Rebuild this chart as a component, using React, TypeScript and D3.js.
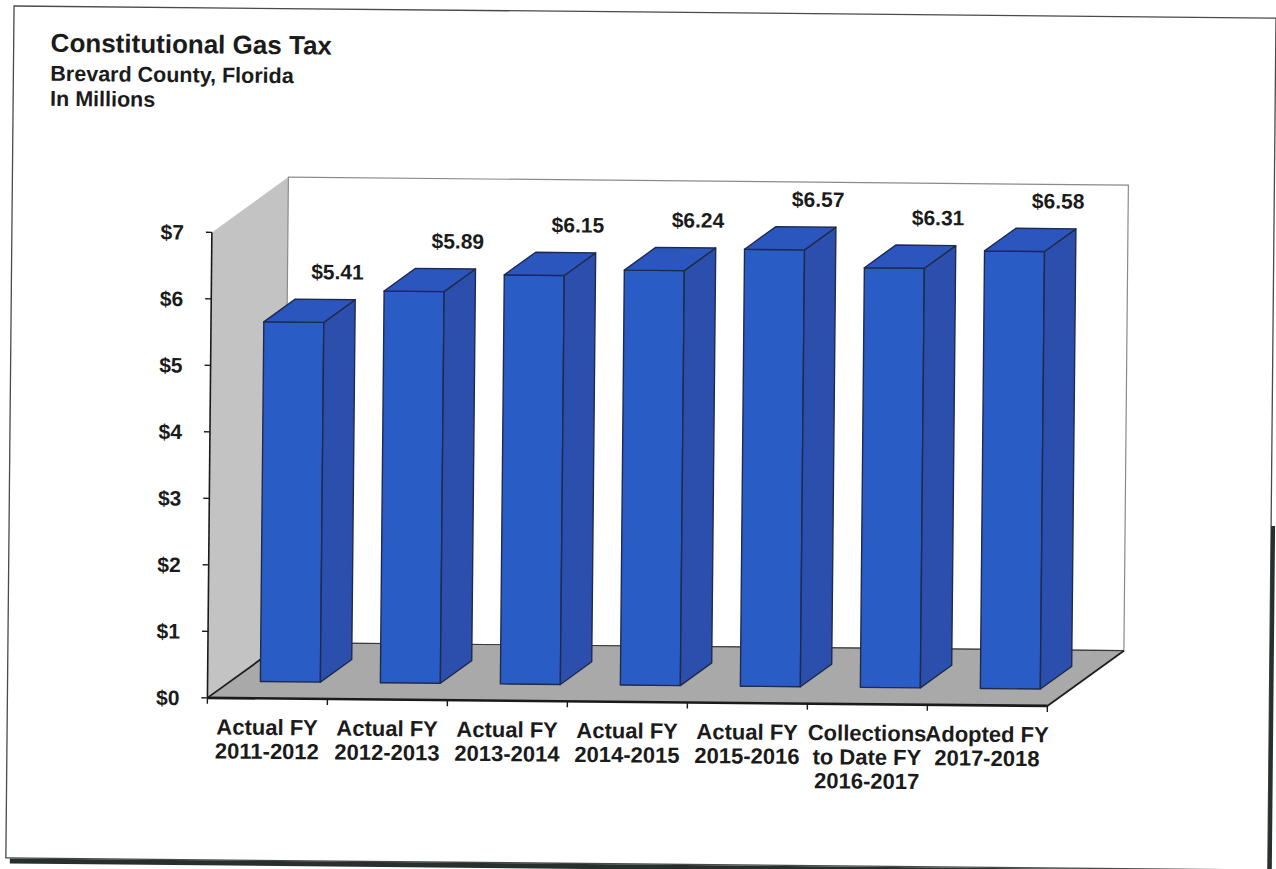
import React, { useEffect } from "react";
import * as d3 from "d3";

// chart values
const categories = [
  "Actual FY\n2011-2012",
  "Actual FY\n2012-2013",
  "Actual FY\n2013-2014",
  "Actual FY\n2014-2015",
  "Actual FY\n2015-2016",
  "Collections\nto Date FY\n2016-2017",
  "Adopted FY\n2017-2018",
];
const values = [5.41, 5.89, 6.15, 6.24, 6.57, 6.31, 6.58];
const yTicks = [0, 1, 2, 3, 4, 5, 6, 7];
const titleLines = ["Constitutional Gas Tax", "Brevard County, Florida", "In Millions"];

const W = 1276, H = 869;
const X0 = 210, X1 = 1050, Y0 = 702, YTOP = 236.5;
const DX = 76, DY = -56; // depth of the 3d box
const Z0 = 0.3, Z1 = 0.71; // bar depth inside the box
const FONT = "'Liberation Sans', Arial, Helvetica, sans-serif";
const INK = "#1b1b1b";

const fmtVal = d3.format("$.2f");
const fmtTick = d3.format("$.0f");

type Pt = [number, number];
const p = (x: number, y: number, z: number): Pt => [x + z * DX, y + z * DY];
const poly = (pts: Pt[]) => (d3.line()(pts) || "") + "Z";

export default function App() {
  useEffect(() => {
    document.body.style.margin = "0";
    document.body.style.overflow = "hidden";
  }, []);

  const x = d3.scaleBand<string>()
    .domain(categories)
    .range([X0, X1])
    .paddingInner(0.5)
    .paddingOuter(0.25);
  const y = d3.scaleLinear().domain([0, 7]).range([Y0, YTOP]);
  const bw = x.bandwidth();
  const step = x.step();
  const vmax = y.domain()[1];

  const leftWall = poly([p(X0, Y0, 0), p(X0, y(vmax), 0), p(X0, y(vmax), 1), p(X0, Y0, 1)]);
  const backWall = poly([p(X0, Y0, 1), p(X1, Y0, 1), p(X1, y(vmax), 1), p(X0, y(vmax), 1)]);
  const floor = poly([p(X0, Y0, 0), p(X1, Y0, 0), p(X1, Y0, 1), p(X0, Y0, 1)]);
  const bounds = d3.range(categories.length + 1).map(i => X0 + i * step);

  return (
    <svg width={W} height={H} style={{ position: "absolute", left: 0, top: 0, display: "block", background: "#fff" }}>
      <g transform="rotate(0.55 640 430)" fontFamily={FONT} fill={INK}>
        {/* scanned page frame */}
        <rect x={10} y={12} width={1262} height={852} fill="none" stroke="#4a4a4a" strokeWidth={1.3} />
        <line x1={14} x2={1278} y1={867} y2={867} stroke="#27302c" strokeWidth={5} />
        <line x1={1274} x2={1274} y1={520} y2={870} stroke="#27302c" strokeWidth={4} />

        {titleLines.map((t, i) => (
          <text key={t} x={47} y={[57.5, 86.5, 111.5][i]} fontSize={i === 0 ? 26 : 21.5} fontWeight="bold">{t}</text>
        ))}

        {/* walls and floor */}
        <path d={leftWall} fill="#c3c3c3" />
        <path d={backWall} fill="#ffffff" stroke="#8a8a8a" strokeWidth={1.2} />
        <path d={floor} fill="#a9a9a9" />
        <line x1={p(X0, Y0, 1)[0]} y1={p(X0, Y0, 1)[1]} x2={p(X1, Y0, 1)[0]} y2={p(X1, Y0, 1)[1]} stroke="#3a3a3a" strokeWidth={1.2} />
        <line x1={X0} y1={Y0} x2={p(X0, Y0, 1)[0]} y2={p(X0, Y0, 1)[1]} stroke="#1e1e1e" strokeWidth={1.8} />
        <line x1={X1} y1={Y0} x2={p(X1, Y0, 1)[0]} y2={p(X1, Y0, 1)[1]} stroke="#1e1e1e" strokeWidth={1.8} />
        <line x1={X0} y1={Y0} x2={X1} y2={Y0} stroke="#1a1a1a" strokeWidth={2.6} />

        {/* bars */}
        {categories.map((c, i) => {
          const bx = x(c) as number;
          const yv = y(values[i]);
          const front = poly([p(bx, Y0, Z0), p(bx + bw, Y0, Z0), p(bx + bw, yv, Z0), p(bx, yv, Z0)]);
          const side = poly([p(bx + bw, Y0, Z0), p(bx + bw, Y0, Z1), p(bx + bw, yv, Z1), p(bx + bw, yv, Z0)]);
          const top = poly([p(bx, yv, Z0), p(bx + bw, yv, Z0), p(bx + bw, yv, Z1), p(bx, yv, Z1)]);
          return (
            <g key={c} stroke="#1f2b4d" strokeWidth={1.4} strokeLinejoin="round">
              <path d={front} fill="#2a5cc6" />
              <path d={side} fill="#2c4fae" />
              <path d={top} fill="#2b56bd" />
            </g>
          );
        })}

        {/* value labels */}
        {categories.map((c, i) => (
          <text key={c} x={(x(c) as number) + bw / 2 + 66} y={y(values[i]) - 60}
            textAnchor="middle" fontSize={21} fontWeight="bold">{fmtVal(values[i])}</text>
        ))}

        {/* y axis */}
        <line x1={X0} x2={X0} y1={y(vmax)} y2={Y0} stroke="#1a1a1a" strokeWidth={1.6} />
        {yTicks.map(t => (
          <g key={t}>
            <line x1={X0 - 6} x2={X0} y1={y(t)} y2={y(t)} stroke="#1a1a1a" strokeWidth={1.4} />
            <text x={X0 - 28} y={y(t)} dy="0.36em" textAnchor="end" fontSize={21} fontWeight="bold">{fmtTick(t)}</text>
          </g>
        ))}

        {/* x axis ticks and labels */}
        {bounds.map(b => (
          <line key={b} x1={b} x2={b} y1={Y0} y2={Y0 + 6} stroke="#1a1a1a" strokeWidth={1.4} />
        ))}
        {categories.map(c => (
          <text key={c} x={(x(c) as number) + bw / 2} y={Y0 + 36.5} textAnchor="middle" fontSize={22} fontWeight="bold">
            {c.split("\n").map((line, j) => (
              <tspan key={j} x={(x(c) as number) + bw / 2} dy={j === 0 ? 0 : 24}>{line}</tspan>
            ))}
          </text>
        ))}
      </g>
    </svg>
  );
}
